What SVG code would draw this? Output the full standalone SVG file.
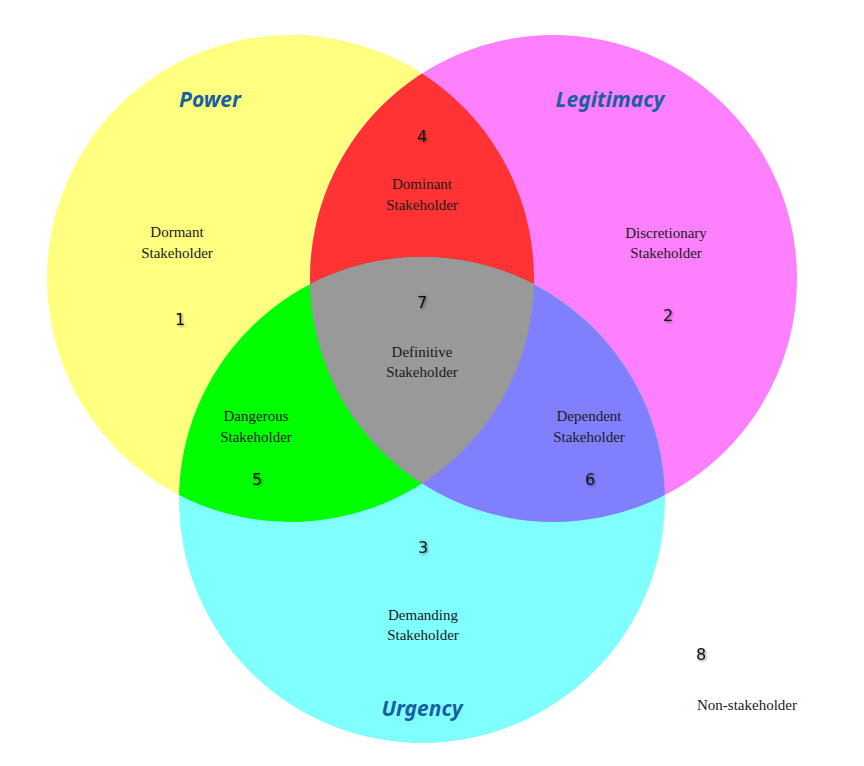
<svg xmlns="http://www.w3.org/2000/svg" width="864" height="766" viewBox="0 0 864 766">
<style>
.lbl{font-family:"Liberation Serif","DejaVu Serif",serif;font-size:15px;fill:#1a1a1a;text-anchor:middle}
.num{font-family:"DejaVu Sans","Liberation Sans",sans-serif;font-size:16px;fill:#111;text-anchor:middle;filter:url(#sh)}
.ttl{font-family:"Noto Sans","Liberation Sans",sans-serif;font-size:21px;font-weight:bold;font-style:italic;fill:#1a5f9f;text-anchor:middle}
</style>
<defs>
<filter id="sh" x="-50%" y="-50%" width="200%" height="200%">
<feDropShadow dx="1.2" dy="1.2" stdDeviation="0.8" flood-color="#000" flood-opacity="0.45"/>
</filter>
<clipPath id="cP"><circle cx="290.5" cy="278.5" r="243.5"/></clipPath>
<clipPath id="cL"><circle cx="553.5" cy="278.5" r="243.5"/></clipPath>
<clipPath id="cU"><circle cx="422" cy="500" r="243"/></clipPath>
</defs>
<rect width="864" height="766" fill="#fff"/>
<g id="power"><circle cx="290.5" cy="278.5" r="243.5" fill="#ffff80"/></g>
<g id="legitimacy"><circle cx="553.5" cy="278.5" r="243.5" fill="#ff80ff"/></g>
<g id="urgency"><circle cx="422" cy="500" r="243" fill="#80ffff"/></g>
<g id="dominant"><circle cx="553.5" cy="278.5" r="243.5" fill="#ff3333" clip-path="url(#cP)"/></g>
<g id="dangerous"><circle cx="422" cy="500" r="243" fill="#00ff00" clip-path="url(#cP)"/></g>
<g id="dependent"><circle cx="422" cy="500" r="243" fill="#8080ff" clip-path="url(#cL)"/></g>
<g id="definitive"><g clip-path="url(#cL)"><circle cx="422" cy="500" r="243" fill="#999999" clip-path="url(#cP)"/></g></g>
<g id="connectors"></g>
<g id="titles">
<text class="ttl" x="210" y="107">Power</text>
<text class="ttl" x="610" y="107">Legitimacy</text>
<text class="ttl" x="422" y="716">Urgency</text>
</g>
<g id="n1"><text class="num" x="180" y="325">1</text><text class="lbl" x="177" y="237">Dormant</text><text class="lbl" x="177" y="258">Stakeholder</text></g>
<g id="n2"><text class="num" x="668" y="321">2</text><text class="lbl" x="666" y="238">Discretionary</text><text class="lbl" x="666" y="258">Stakeholder</text></g>
<g id="n3"><text class="num" x="423" y="553">3</text><text class="lbl" x="423" y="620">Demanding</text><text class="lbl" x="423" y="640">Stakeholder</text></g>
<g id="n4"><text class="num" x="422" y="142">4</text><text class="lbl" x="422" y="189">Dominant</text><text class="lbl" x="422" y="210">Stakeholder</text></g>
<g id="n5"><text class="num" x="257" y="485">5</text><text class="lbl" x="256" y="421">Dangerous</text><text class="lbl" x="256" y="442">Stakeholder</text></g>
<g id="n6"><text class="num" x="590" y="485">6</text><text class="lbl" x="589" y="421">Dependent</text><text class="lbl" x="589" y="442">Stakeholder</text></g>
<g id="n7"><text class="num" x="422" y="308">7</text><text class="lbl" x="422" y="357">Definitive</text><text class="lbl" x="422" y="377">Stakeholder</text></g>
<g id="n8"><text class="num" x="701" y="660">8</text><text class="lbl" x="747" y="710">Non-stakeholder</text></g>
</svg>
